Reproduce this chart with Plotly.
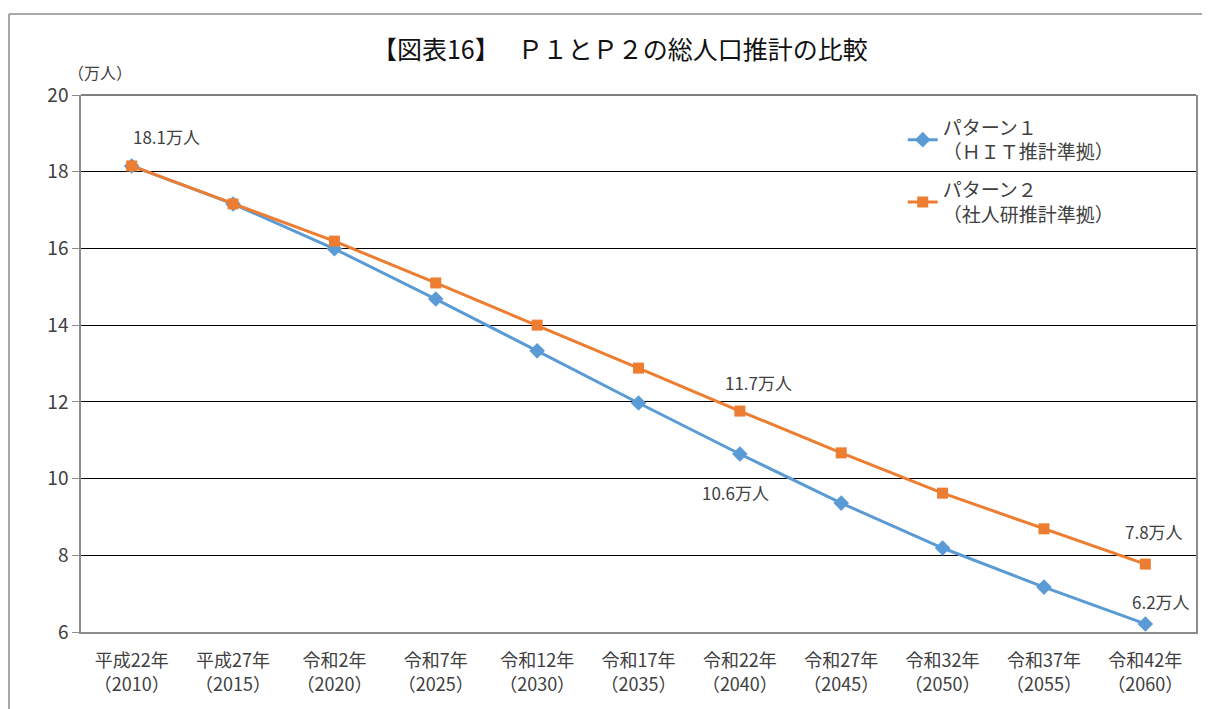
import plotly.graph_objects as go

FONT = "Noto Sans CJK JP"
TEXT_COLOR = "#404040"
BLUE = "#5B9BD5"
ORANGE = "#ED7D31"

# 年次ラベル（和暦 + 西暦）
era_labels = ["平成22年", "平成27年", "令和2年", "令和7年", "令和12年", "令和17年",
              "令和22年", "令和27年", "令和32年", "令和37年", "令和42年"]
years = ["2010", "2015", "2020", "2025", "2030", "2035",
         "2040", "2045", "2050", "2055", "2060"]

# 総人口推計（万人）
pattern1 = [18.15, 17.16, 15.99, 14.68, 13.33, 11.97, 10.64, 9.36, 8.19, 7.17, 6.21]
pattern2 = [18.15, 17.16, 16.19, 15.10, 14.00, 12.88, 11.76, 10.67, 9.62, 8.69, 7.77]

# 値ラベル: (系列, 年, 表示テキスト, xshift, yshift)
value_labels = [
    ("p2", "2010", "18.1万人", 35, 29),
    ("p2", "2040", "11.7万人", 19, 29),
    ("p1", "2040", "10.6万人", -4, -38),
    ("p2", "2060", "7.8万人", 9, 33),
    ("p1", "2060", "6.2万人", 16, 22),
]

categories = [f"{e}<br>（{y}）" for e, y in zip(era_labels, years)]
series = {"p1": pattern1, "p2": pattern2}

fig = go.Figure()

fig.add_trace(go.Scatter(
    x=categories, y=pattern1, mode="lines+markers",
    name="パターン１<br>（ＨＩＴ推計準拠）", legendgroup="p1",
    line=dict(color=BLUE, width=3),
    marker=dict(symbol="diamond", size=12, color=BLUE),
))
fig.add_trace(go.Scatter(
    x=categories, y=pattern2, mode="lines+markers",
    name="パターン２<br>（社人研推計準拠）", legendgroup="p2",
    line=dict(color=ORANGE, width=3),
    marker=dict(symbol="square", size=11, color=ORANGE),
))

for key, yr, text, dx, dy in value_labels:
    i = years.index(yr)
    fig.add_annotation(
        x=categories[i], y=series[key][i], text=text, showarrow=False,
        xshift=dx, yshift=dy, font=dict(size=17, color=TEXT_COLOR, family=FONT),
    )

# 単位
fig.add_annotation(
    x=0.017, y=1.043, xref="paper", yref="paper", text="（万人）",
    showarrow=False, xanchor="center", yanchor="middle",
    font=dict(size=16, color=TEXT_COLOR, family=FONT),
)

# 20 の目盛線（上端）
fig.add_shape(type="line", xref="paper", yref="paper",
              x0=0, x1=1, y0=1, y1=1, line=dict(color="#000000", width=1))

# 外枠（グラフエリアの線）
fig.add_shape(type="line", xref="paper", yref="paper",
              x0=-0.0646, x1=1.02, y0=1.151, y1=1.151,
              line=dict(color="#8c8c8c", width=1.5))
fig.add_shape(type="line", xref="paper", yref="paper",
              x0=-0.0646, x1=-0.0646, y0=1.151, y1=-0.2,
              line=dict(color="#8c8c8c", width=1.5))

# ページ余白 8px を差し引いたサイズ
fig.update_layout(
    width=1202, height=701,
    margin=dict(l=73, r=14, t=87, b=77),
    paper_bgcolor="white", plot_bgcolor="white",
    font=dict(family=FONT, color=TEXT_COLOR),
    title=dict(
        text="【図表16】　 Ｐ１とＰ２の総人口推計の比較",
        x=0.509, xanchor="center", y=0.94, yanchor="middle", yref="container",
        font=dict(size=25, color="#111111", family=FONT),
    ),
    legend=dict(
        x=0.737, y=0.975, xanchor="left", yanchor="top",
        bgcolor="rgba(0,0,0,0)", font=dict(size=19, color=TEXT_COLOR, family=FONT),
        tracegroupgap=10,
    ),
    xaxis=dict(
        type="category", range=[-0.5, 10.5],
        showgrid=False, showline=True, linecolor="#8c8c8c", linewidth=1.5,
        ticks="", ticklabelstandoff=12, tickfont=dict(size=18, color=TEXT_COLOR),
    ),
    yaxis=dict(
        range=[6, 20], dtick=2, showgrid=True, gridcolor="#000000", gridwidth=1,
        showline=True, mirror=True, linecolor="#8c8c8c", linewidth=1.5,
        ticks="outside", ticklen=7, tickcolor="#8c8c8c",
        tickfont=dict(size=19, color=TEXT_COLOR), zeroline=False,
    ),
)

fig.write_html("out.html")
